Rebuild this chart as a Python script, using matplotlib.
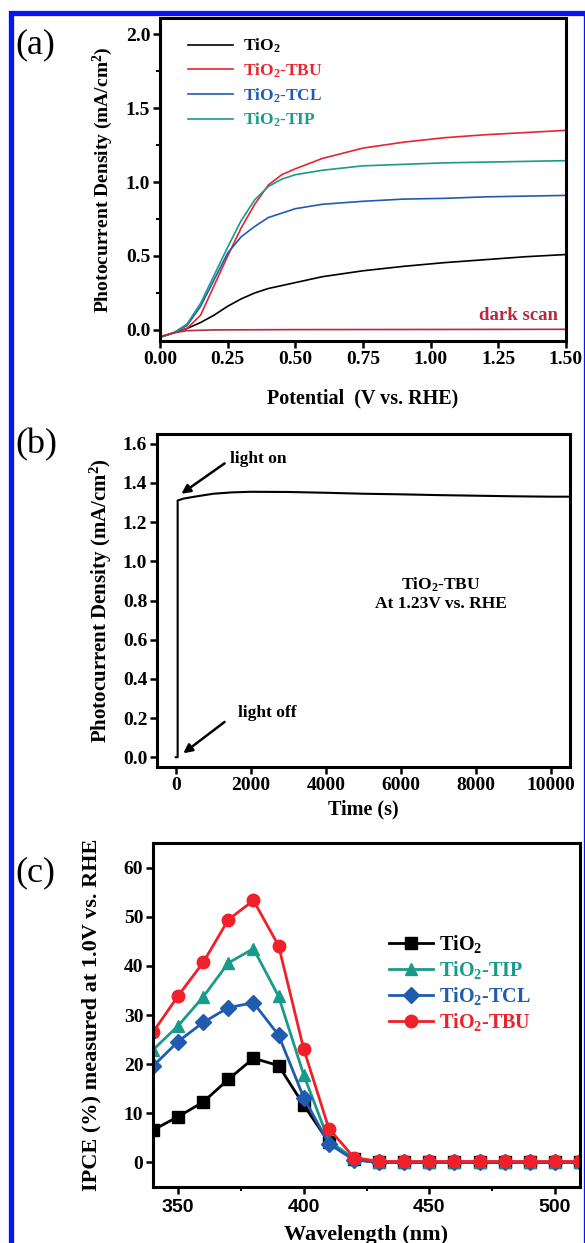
import numpy as np
import matplotlib
matplotlib.use("Agg")
import matplotlib.pyplot as plt
from matplotlib.patches import Rectangle
from matplotlib.ticker import MultipleLocator, FormatStrFormatter

plt.rcParams['font.family'] = ['Liberation Serif', 'DejaVu Serif']
plt.rcParams['font.weight'] = 'bold'
plt.rcParams['axes.labelweight'] = 'bold'
plt.rcParams['mathtext.fontset'] = 'custom'
plt.rcParams['mathtext.rm'] = 'Liberation Serif:bold'
plt.rcParams['mathtext.it'] = 'Liberation Serif:bold'
plt.rcParams['mathtext.bf'] = 'Liberation Serif:bold'

# ---- (a) LSV curves ----
pot = [0.00, 0.05, 0.10, 0.15, 0.20, 0.25, 0.30, 0.35, 0.40, 0.45, 0.50, 0.60, 0.75, 0.90, 1.05, 1.20, 1.35, 1.50]
j_tio2 = [-0.05, -0.02, 0.01, 0.05, 0.10, 0.16, 0.21, 0.25, 0.28, 0.30, 0.32, 0.36, 0.40, 0.43, 0.455, 0.475, 0.495, 0.51]
j_tbu = [-0.05, -0.02, 0.01, 0.10, 0.30, 0.50, 0.69, 0.85, 0.98, 1.05, 1.09, 1.16, 1.23, 1.27, 1.30, 1.32, 1.335, 1.35]
j_tcl = [-0.05, -0.02, 0.03, 0.16, 0.34, 0.52, 0.63, 0.70, 0.76, 0.79, 0.82, 0.85, 0.87, 0.885, 0.89, 0.90, 0.905, 0.91]
j_tip = [-0.05, -0.02, 0.04, 0.18, 0.37, 0.56, 0.74, 0.88, 0.97, 1.02, 1.05, 1.08, 1.11, 1.12, 1.13, 1.135, 1.14, 1.145]
dark_pot = [0.00, 0.05, 0.10, 0.20, 0.50, 1.00, 1.50]
j_dark = [-0.045, -0.02, -0.005, 0.0, 0.002, 0.003, 0.004]

# ---- (b) chronoamperometry ----
t_s = [0, 50, 50, 200, 500, 1000, 1500, 2000, 3000, 4000, 5000, 6000, 7000, 8000, 9000, 10000, 10500]
j_t = [0.0, 0.0, 1.31, 1.32, 1.33, 1.345, 1.352, 1.355, 1.354, 1.35, 1.345, 1.342, 1.338, 1.335, 1.332, 1.33, 1.33]

# ---- (c) IPCE ----
wl = [340, 350, 360, 370, 380, 390, 400, 410, 420, 430, 440, 450, 460, 470, 480, 490, 500, 510]
ipce_tio2 = [6.6, 9.3, 12.3, 16.9, 21.2, 19.7, 11.7, 4.1, 0.6, 0, 0, 0, 0, 0, 0, 0, 0, 0]
ipce_tip = [22.9, 27.8, 33.7, 40.6, 43.5, 33.8, 17.8, 4.4, 0.8, 0, 0, 0, 0, 0, 0, 0, 0, 0]
ipce_tcl = [19.6, 24.6, 28.5, 31.5, 32.5, 25.9, 13.2, 3.8, 0.5, 0, 0, 0, 0, 0, 0, 0, 0, 0]
ipce_tbu = [26.5, 33.9, 40.7, 49.4, 53.3, 44.1, 23.1, 6.9, 1.0, 0.2, 0.2, 0.2, 0.2, 0.2, 0.2, 0.2, 0.2, 0.2]

W, H = 585, 1243
fig = plt.figure(figsize=(W / 100, H / 100), dpi=100)


def rect(l, r, t, b):
    return [l / W, 1 - b / H, (r - l) / W, (b - t) / H]


def style(ax):
    for s in ax.spines.values():
        s.set_linewidth(2.2)
    ax.tick_params(direction='out', width=1.8, length=5, labelsize=14, pad=2)
    ax.tick_params(which='minor', direction='out', width=1.5, length=3)


black, red, blue, teal, dark = '#000000', '#e8242e', '#1f5cb0', '#1a9a8a', '#b52a40'

# panel a
ax = fig.add_axes(rect(160, 566, 18, 341))
ax.plot(pot, j_tio2, color=black, lw=1.2, label='TiO$_2$')
ax.plot(pot, j_tbu, color=red, lw=1.2, label='TiO$_2$-TBU')
ax.plot(pot, j_tcl, color=blue, lw=1.2, label='TiO$_2$-TCL')
ax.plot(pot, j_tip, color=teal, lw=1.2, label='TiO$_2$-TIP')
ax.plot(dark_pot, j_dark, color=dark, lw=1.2)
ax.text(1.47, 0.095, 'dark scan', color=dark, ha='right', va='center', fontsize=13.5)
ax.set_xlim(0, 1.5)
ax.set_ylim(-0.075, 2.11)
ax.set_xticks([0, 0.25, 0.5, 0.75, 1.0, 1.25, 1.5])
ax.xaxis.set_major_formatter(FormatStrFormatter('%.2f'))
ax.set_yticks([0, 0.5, 1.0, 1.5, 2.0])
ax.yaxis.set_minor_locator(MultipleLocator(0.25))
style(ax)
ax.set_xlabel('Potential  (V vs. RHE)', fontsize=14.5, labelpad=15)
ax.set_ylabel('Photocurrent Density (mA/cm$^2$)', fontsize=14, labelpad=8)
ax.legend(loc='upper left', bbox_to_anchor=(0.03, 0.99), frameon=False, fontsize=12.5,
          handlelength=2.6, handletextpad=0.6, labelspacing=0.36, labelcolor='linecolor')

# panel b
ax = fig.add_axes(rect(157, 570, 434, 767))
ax.plot(t_s, j_t, color=black, lw=1.5)
ax.set_xlim(-500, 10500)
ax.set_ylim(-0.05, 1.65)
ax.set_xticks(range(0, 10001, 2000))
ax.set_yticks(np.arange(0, 1.61, 0.2))
ax.yaxis.set_major_formatter(FormatStrFormatter('%.1f'))
style(ax)
ax.set_xlabel('Time (s)', fontsize=14.5, labelpad=4)
ax.set_ylabel('Photocurrent Density (mA/cm$^2$)', fontsize=15, labelpad=6)
arw = dict(arrowstyle='-|>', color='black', lw=1.8, mutation_scale=13, shrinkA=0, shrinkB=0)
ax.annotate('', xy=(150, 1.345), xytext=(1300, 1.50), arrowprops=arw)
ax.text(2200, 1.52, 'light on', ha='center', va='center', fontsize=12.5)
ax.annotate('', xy=(200, 0.02), xytext=(1300, 0.18), arrowprops=arw)
ax.text(2450, 0.225, 'light off', ha='center', va='center', fontsize=12.5)
ax.text(7070, 0.88, 'TiO$_2$-TBU', ha='center', va='center', fontsize=12.5)
ax.text(7070, 0.78, 'At 1.23V vs. RHE', ha='center', va='center', fontsize=12.5)

# panel c
ax = fig.add_axes(rect(153, 580, 843, 1187))
ax.plot(wl, ipce_tio2, color=black, lw=2, marker='s', ms=8, label='TiO$_2$')
ax.plot(wl, ipce_tip, color=teal, lw=2, marker='^', ms=9, label='TiO$_2$-TIP')
ax.plot(wl, ipce_tcl, color=blue, lw=2, marker='D', ms=8, label='TiO$_2$-TCL')
ax.plot(wl, ipce_tbu, color='#f0202a', lw=2, marker='o', ms=9, label='TiO$_2$-TBU')
ax.set_xlim(340, 510)
ax.set_ylim(-5, 65)
ax.set_xticks([350, 400, 450, 500])
ax.xaxis.set_minor_locator(MultipleLocator(25))
ax.set_yticks(range(0, 61, 10))
style(ax)
ax.tick_params(axis='x', pad=4)
for lb in ax.get_xticklabels():
    lb.set_fontfamily('Liberation Sans')
ax.set_xlabel('Wavelength (nm)', fontsize=16, labelpad=6)
ax.set_ylabel('IPCE (%) measured at 1.0V vs. RHE', fontsize=16, labelpad=16)
leg = ax.legend(loc='upper left', bbox_to_anchor=(0.51, 0.79), frameon=False, fontsize=14.5,
                handlelength=2.2, handletextpad=0.3, labelspacing=0.2)
for txt, ln in zip(leg.get_texts(), leg.get_lines()):
    txt.set_color(ln.get_color())

# panel letters
fig.text(15 / W, 1 - 45 / H, '(a)', fontsize=26, fontweight='normal', va='center')
fig.text(15 / W, 1 - 445 / H, '(b)', fontsize=26, fontweight='normal', va='center')
fig.text(15 / W, 1 - 873 / H, '(c)', fontsize=26, fontweight='normal', va='center')

# blue frame
fig.add_artist(Rectangle((10.5 / W, -0.05), (586 - 10.5) / W, 1.05 - 12.5 / H,
                         transform=fig.transFigure, fill=False, edgecolor='#0a14f0', lw=3.8))

fig.savefig('out.png', dpi=100)
